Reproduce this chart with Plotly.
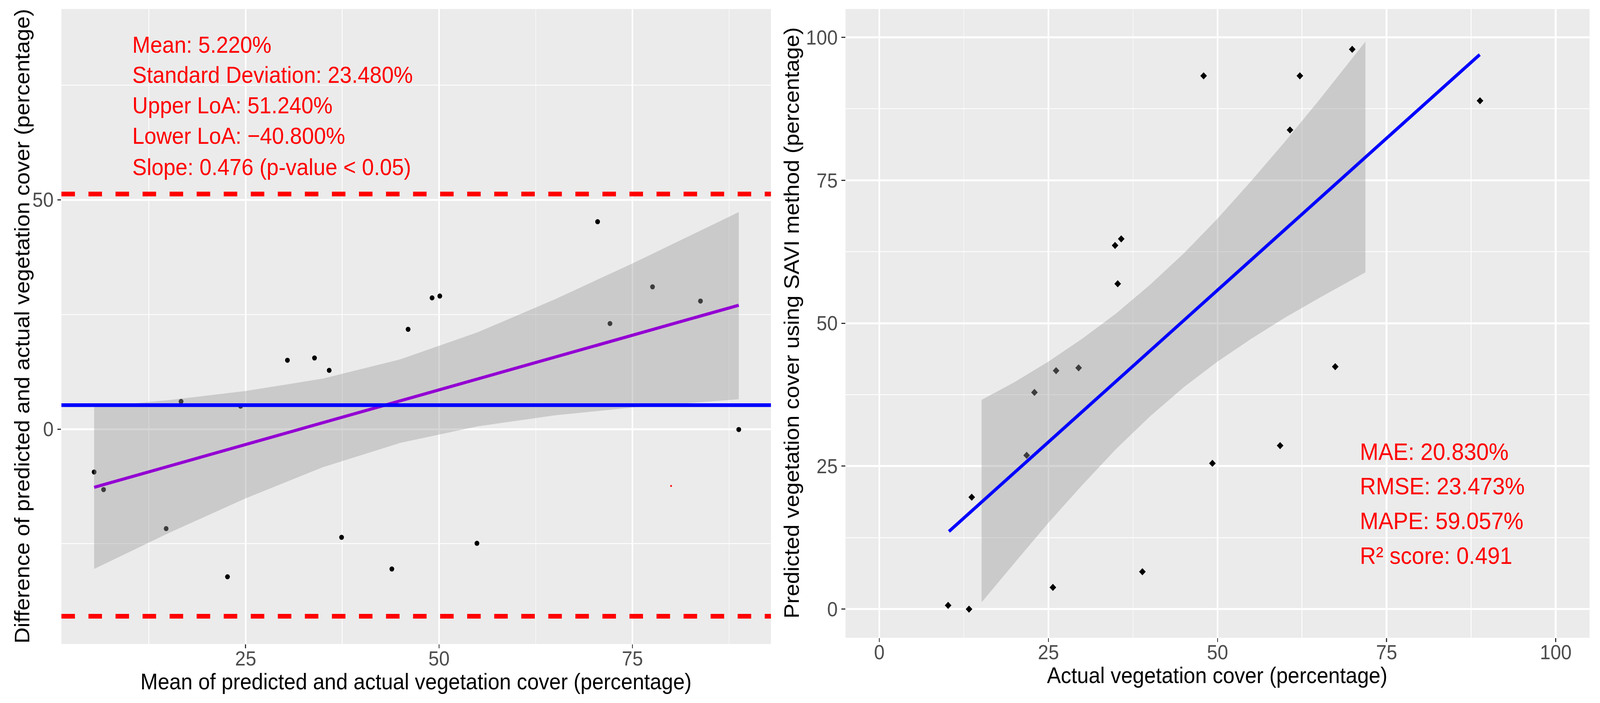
import plotly.graph_objects as go

W, H = 4377, 1799

# ---- left panel: Bland-Altman ----
ba_mean = [5.41, 6.63, 14.72, 16.65, 22.65, 24.34, 30.4, 33.9, 35.8, 37.4,
           43.9, 46.0, 49.1, 50.1, 54.9, 70.5, 72.1, 77.6, 83.8, 88.75]
ba_diff = [-9.36, -13.2, -21.7, 6.02, -32.2, 5.0, 15.0, 15.5, 12.8, -23.6,
           -30.5, 21.75, 28.6, 29.0, -24.9, 45.2, 23.0, 31.0, 27.9, -0.1]
odd_mean = [80.0]
odd_diff = [-12.4]

mean_diff = 5.22
upper_loa = 51.24
lower_loa = -40.8

ba_fit_x = [5.41, 88.75]
ba_fit_y = [-12.7, 27.0]
ba_band_x = [5.41, 15, 25, 35, 45, 55, 65, 75, 88.75]
ba_band_hi = [4.8, 6.3, 8.3, 11.0, 15.2, 21.1, 28.3, 36.1, 47.3]
ba_band_lo = [-30.5, -22.7, -15.1, -8.3, -3.0, 0.6, 3.0, 4.7, 6.5]

ba_stats = ["Mean: 5.220%", "Standard Deviation: 23.480%", "Upper LoA: 51.240%",
            "Lower LoA: \u221240.800%", "Slope: 0.476 (p-value < 0.05)"]

# ---- right panel: predicted vs actual ----
actual = [10.17, 13.26, 13.66, 21.78, 22.93, 26.13, 29.46, 25.66, 38.89, 34.85,
          35.76, 35.24, 47.94, 62.17, 69.91, 60.71, 88.8, 67.4, 59.25, 49.24]
predicted = [0.66, 0.0, 19.58, 26.9, 37.9, 41.7, 42.2, 3.8, 6.54, 63.6,
             64.75, 56.9, 93.26, 93.26, 97.9, 83.8, 88.9, 42.4, 28.6, 25.5]

fit_x = [10.29, 88.76]
fit_y = [13.59, 96.98]
band_x = [15.12, 20, 25, 30, 35, 40, 45, 50, 55, 60, 65, 71.86]
band_hi = [36.6, 39.7, 43.3, 47.3, 51.7, 56.7, 62.2, 68.3, 74.9, 81.8, 89.0, 99.25]
band_lo = [1.2, 8.1, 15.1, 21.7, 28.0, 33.7, 38.8, 43.3, 47.3, 51.0, 54.4, 58.9]

sc_stats = ["MAE: 20.830%", "RMSE: 23.473%", "MAPE: 59.057%", "R\u00b2 score: 0.491"]

FONT = "Liberation Sans, Arial, sans-serif"
RIBBON = "rgba(153,153,153,0.4)"


def px_x(p):
    return p / W


def px_y(p):
    return 1 - p / H


fig = go.Figure()

# left
fig.add_trace(go.Scatter(x=ba_mean, y=ba_diff, mode="markers",
                         marker=dict(color="black", size=13), xaxis="x", yaxis="y"))
fig.add_trace(go.Scatter(x=odd_mean, y=odd_diff, mode="markers",
                         marker=dict(color="red", size=5), xaxis="x", yaxis="y"))
fig.add_trace(go.Scatter(x=ba_band_x + ba_band_x[::-1], y=ba_band_hi + ba_band_lo[::-1],
                         fill="toself", fillcolor=RIBBON, line=dict(width=0),
                         mode="lines", xaxis="x", yaxis="y"))
fig.add_trace(go.Scatter(x=ba_fit_x, y=ba_fit_y, mode="lines",
                         line=dict(color="#9400D3", width=8), xaxis="x", yaxis="y"))

# right
fig.add_trace(go.Scatter(x=actual, y=predicted, mode="markers",
                         marker=dict(color="black", size=14, symbol="diamond"),
                         xaxis="x2", yaxis="y2"))
fig.add_trace(go.Scatter(x=band_x + band_x[::-1], y=band_hi + band_lo[::-1],
                         fill="toself", fillcolor=RIBBON, line=dict(width=0),
                         mode="lines", xaxis="x2", yaxis="y2"))
fig.add_trace(go.Scatter(x=fit_x, y=fit_y, mode="lines",
                         line=dict(color="#0000FF", width=8.5), xaxis="x2", yaxis="y2"))

# horizontal reference lines on the left panel
fig.add_shape(type="line", xref="x domain", yref="y", x0=0, x1=1, y0=mean_diff, y1=mean_diff,
              line=dict(color="#0000FF", width=9.5))
for v in (upper_loa, lower_loa):
    fig.add_shape(type="line", xref="x domain", yref="y", x0=0, x1=1, y0=v, y1=v,
                  line=dict(color="#FF0000", width=12, dash="37px,37px"))


def axis(domain, rng, ticks, minor, anchor, standoff=0):
    return dict(
        domain=domain, range=rng, anchor=anchor,
        tickmode="array", tickvals=ticks,
        ticks="outside", ticklen=10, tickwidth=3, tickcolor="#333333",
        ticklabelstandoff=standoff,
        tickfont=dict(family=FONT, size=52, color="#4D4D4D"),
        showgrid=True, gridcolor="white", gridwidth=4.5,
        minor=dict(tickmode="array", tickvals=minor, showgrid=True,
                   gridcolor="white", gridwidth=2.3, ticks=""),
        zeroline=False, showline=False,
    )


annotations = []
ba_rows = [115, 192, 270, 348, 428]
for txt, yp in zip(ba_stats, ba_rows):
    annotations.append(dict(text=txt, xref="paper", yref="paper", x=px_x(360), y=px_y(yp),
                            xanchor="left", yanchor="middle", showarrow=False,
                            font=dict(family=FONT, size=59, color="#FF0000")))
sc_rows = [1156, 1244, 1333, 1422]
for txt, yp in zip(sc_stats, sc_rows):
    annotations.append(dict(text=txt, xref="paper", yref="paper", x=px_x(3718), y=px_y(yp),
                            xanchor="left", yanchor="middle", showarrow=False,
                            font=dict(family=FONT, size=61, color="#FF0000")))

title_font = dict(family=FONT, size=57, color="black")
annotations += [
    dict(text="Mean of predicted and actual vegetation cover (percentage)", xref="paper",
         yref="paper", x=px_x(1138), y=px_y(1744), showarrow=False, font=title_font,
         xanchor="center", yanchor="middle"),
    dict(text="Difference of predicted and actual vegetation cover (percentage)", xref="paper",
         yref="paper", x=px_x(60), y=px_y(835), showarrow=False, font=title_font,
         textangle=-90, xanchor="center", yanchor="middle"),
    dict(text="Actual vegetation cover (percentage)", xref="paper",
         yref="paper", x=px_x(3330), y=px_y(1728), showarrow=False, font=title_font,
         xanchor="center", yanchor="middle"),
    dict(text="Predicted vegetation cover using SAVI method (percentage)", xref="paper",
         yref="paper", x=px_x(2165), y=px_y(827), showarrow=False, font=title_font,
         textangle=-90, xanchor="center", yanchor="middle"),
]

fig.update_layout(
    width=W, height=H, autosize=False,
    margin=dict(l=0, r=0, t=0, b=0),
    paper_bgcolor="white", plot_bgcolor="#EBEBEB",
    showlegend=False,
    font=dict(family=FONT),
    xaxis=axis([px_x(168), px_x(2109)], [1.18, 92.91], [25, 50, 75],
               [12.5, 37.5, 62.5, 87.5], "y", standoff=-18),
    yaxis=axis([px_y(1648), px_y(23)], [-46.85, 91.57], [0, 50],
               [-25, 25, 75], "x"),
    xaxis2=axis([px_x(2313), px_x(4348.5)], [-5, 105], [0, 25, 50, 75, 100],
                [12.5, 37.5, 62.5, 87.5], "y2", standoff=-18),
    yaxis2=axis([px_y(1632), px_y(23)], [-5, 104.95], [0, 25, 50, 75, 100],
                [12.5, 37.5, 62.5, 87.5], "x2"),
    annotations=annotations,
)

# stretch the fixed W x H figure onto the actual viewport if it differs from W x H
fit_js = """
document.documentElement.style.overflow = 'hidden';
document.body.style.margin = '0';
document.body.style.overflow = 'hidden';
var gd = document.getElementById('{plot_id}');
var sx = window.innerWidth / %d, sy = window.innerHeight / %d;
if (Math.abs(sx - 1) > 0.001 || Math.abs(sy - 1) > 0.001) {
    gd.style.transformOrigin = '0 0';
    gd.style.transform = 'scale(' + sx + ',' + sy + ')';
}
""" % (W, H)

fig.write_html("out.html", post_script=fit_js, config={"displayModeBar": False})
